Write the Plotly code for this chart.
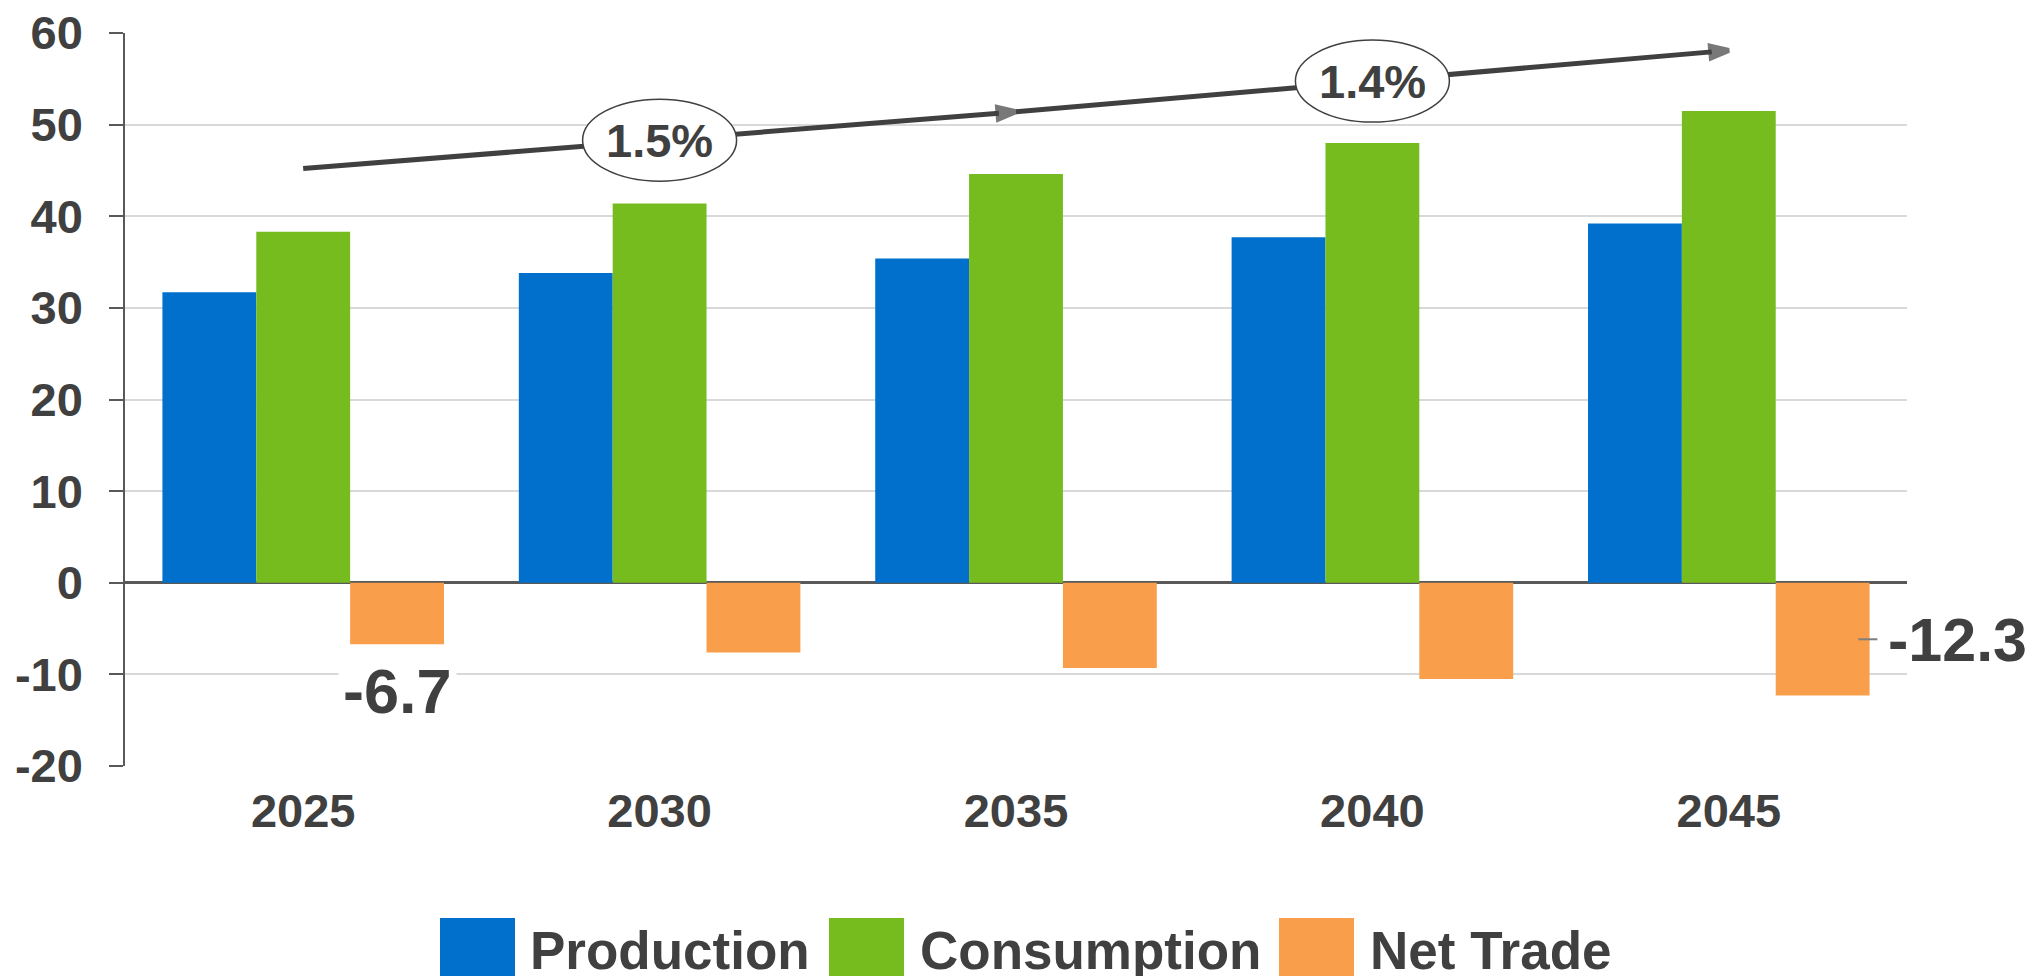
import plotly.graph_objects as go

# ---------------- data ----------------
years = ["2025", "2030", "2035", "2040", "2045"]
production = [31.7, 33.8, 35.4, 37.7, 39.2]
consumption = [38.3, 41.4, 44.6, 48.0, 51.5]
net_trade = [-6.7, -7.6, -9.3, -10.5, -12.3]

trend_years = ["2025", "2035", "2045"]
trend_values = [45.2, 51.4, 58.1]
growth_labels = ["1.5%", "1.4%"]
growth_years = ["2030", "2040"]

y_tickvals = [-20, -10, 0, 10, 20, 30, 40, 50, 60]
y_ticktext = ["-20", "-10", "0", "10", "20", "30", "40", "50", "60"]

series_names = ["Production", "Consumption", "Net Trade"]
colors = ["#0070CC", "#77BC1F", "#F99E4B"]

# ---------------- layout constants ----------------
# The page body has an 8px margin, so the figure is drawn 8px right/down.
OFF = 8
W, H = 2036 - 2 * OFF, 976 - OFF
PL, PR, PT, PB = 125, 1907, 33, 766          # plot box in page pixels
L, T = PL - OFF, PT - OFF
R, B = W - (PR - OFF), H - (PB - OFF)
PW, PH = W - L - R, H - T - B
BARGAP = 0.21
TXT = "#404040"
FONT = "Liberation Sans, Arial, sans-serif"


def pxx(px):
    return (px - OFF - L) / PW


def pxy(py):
    return (H - B - (py - OFF)) / PH


fig = go.Figure()
for name, vals, col in zip(series_names, [production, consumption, net_trade], colors):
    fig.add_trace(go.Bar(x=years, y=vals, name=name, marker=dict(color=col, line=dict(width=0)),
                         showlegend=False, hoverinfo="x+y+name"))

# trend line with arrowheads (drawn as a trace so the ellipses sit on top of it)
fig.add_trace(go.Scatter(
    x=trend_years, y=trend_values, mode="lines+markers",
    line=dict(color=TXT, width=5),
    marker=dict(symbol="arrow", size=[0, 19, 19], angleref="previous", color=TXT,
                line=dict(color=TXT, width=5)),
    showlegend=False, hoverinfo="skip", cliponaxis=False))

shapes = []
annotations = []

# growth-rate ellipses
for i, (lab, yr) in enumerate(zip(growth_labels, growth_years)):
    ymid = (trend_values[i] + trend_values[i + 1]) / 2
    xi = years.index(yr)
    shapes.append(dict(type="circle", layer="above", xref="x", yref="y",
                       xsizemode="pixel", ysizemode="pixel", xanchor=xi, yanchor=ymid,
                       x0=-77, x1=77, y0=-41, y1=41,
                       fillcolor="white", line=dict(color=TXT, width=1.5)))
    annotations.append(dict(x=xi, y=ymid, xref="x", yref="y", text=lab, showarrow=False,
                            font=dict(family=FONT, size=47, color=TXT, weight="bold"),
                            xanchor="center", yanchor="middle"))

# data labels for net trade
off = (1 - BARGAP) / 3
annotations.append(dict(x=0 + off, y=-11.8, xref="x", yref="y", text=str(net_trade[0]),
                        showarrow=False, bgcolor="white", borderpad=4,
                        font=dict(family=FONT, size=63, color=TXT, weight="bold"),
                        xanchor="center", yanchor="middle"))
annotations.append(dict(x=4.441, y=-6.2, xref="x", yref="y", text=str(net_trade[4]),
                        showarrow=False,
                        font=dict(family=FONT, size=61, color=TXT, weight="bold"),
                        xanchor="left", yanchor="middle"))
shapes.append(dict(type="line", xref="x", yref="y", x0=4.3635, x1=4.417, y0=-6.17, y1=-6.17,
                   line=dict(color="#7F7F7F", width=2), layer="above"))

# custom legend (large swatches)
sw_x = [440, 829, 1279]
tx_x = [528, 918, 1368]
for name, col, sx, tx in zip(series_names, colors, sw_x, tx_x):
    shapes.append(dict(type="rect", xref="paper", yref="paper",
                       x0=pxx(sx), x1=pxx(sx + 75), y0=pxy(918), y1=pxy(993),
                       fillcolor=col, line=dict(width=0)))
    annotations.append(dict(x=pxx(tx), y=pxy(950), xref="paper", yref="paper", text=name,
                            showarrow=False, xanchor="left", yanchor="middle",
                            font=dict(family=FONT, size=53, color=TXT, weight="bold")))

fig.update_layout(
    width=W, height=H,
    margin=dict(l=L, r=R, t=T, b=B, pad=0, autoexpand=False),
    paper_bgcolor="white", plot_bgcolor="white",
    barmode="group", bargap=BARGAP, bargroupgap=0,
    shapes=shapes, annotations=annotations,
    showlegend=False,
    font=dict(family=FONT, color=TXT),
)
fig.update_yaxes(range=[-20, 60], tickvals=y_tickvals, ticktext=y_ticktext,
                 showline=True, linecolor="#595959", linewidth=1.5,
                 ticks="outside", ticklen=14, tickwidth=1.5, tickcolor="#595959",
                 showgrid=True, gridcolor="#D9D9D9", gridwidth=1.5,
                 zeroline=True, zerolinecolor="#595959", zerolinewidth=2.5,
                 tickfont=dict(family=FONT, size=47, color=TXT, weight="bold"),
                 ticklabelstandoff=17, ticklabeloverflow="allow", automargin=False)
fig.update_xaxes(type="category", range=[-0.5, 4.5], showline=False, ticks="", showgrid=False,
                 tickfont=dict(family=FONT, size=47, color=TXT, weight="bold"),
                 ticklabelstandoff=13, automargin=False)

fig.write_html("out.html")
